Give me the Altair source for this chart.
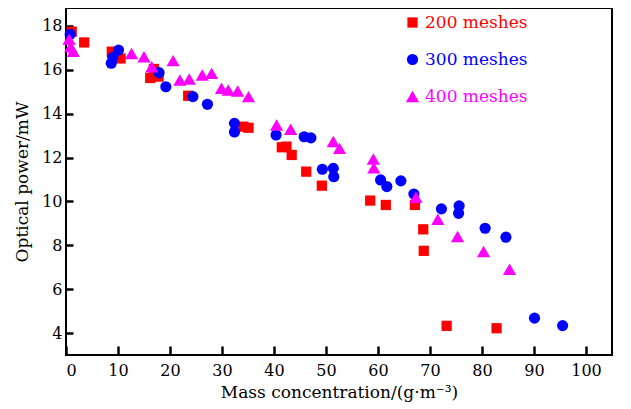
import altair as alt
import pandas as pd

# 200 meshes (red squares)
x200 = [1.1, 3.5, 8.8, 10.5, 16.2, 16.9, 17.8, 23.5, 34.1, 35.1, 41.5, 42.4, 43.4,
        46.2, 49.2, 58.5, 61.5, 67.1, 68.7, 68.8, 73.2, 82.8]
y200 = [17.74, 17.25, 16.83, 16.52, 15.63, 16.04, 15.69, 14.82, 13.41, 13.36, 12.47, 12.5, 12.12,
        11.36, 10.72, 10.04, 9.84, 9.84, 8.73, 7.75, 4.33, 4.22]

# 300 meshes (blue circles)
x300 = [0.8, 8.7, 9.0, 10.1, 17.9, 19.2, 24.4, 27.2, 32.4, 32.4, 40.4, 45.8, 47.1, 49.3,
        51.4, 51.5, 60.5, 61.7, 64.4, 66.9, 72.2, 75.6, 75.5, 80.6, 84.6, 90.1, 95.5]
y300 = [17.62, 16.3, 16.57, 16.9, 15.87, 15.23, 14.78, 14.43, 13.56, 13.17, 13.03, 12.95, 12.9, 11.47,
        11.51, 11.13, 10.98, 10.68, 10.94, 10.34, 9.66, 9.8, 9.46, 8.78, 8.37, 4.68, 4.34]

# 400 meshes (magenta triangles)
x400 = [0.6, 0.9, 1.4, 12.6, 15.0, 16.5, 20.6, 21.9, 23.7, 26.2, 28.0, 29.9, 31.2, 33.0,
        35.1, 40.5, 43.2, 51.4, 52.6, 59.1, 59.2, 67.3, 71.5, 75.3, 80.3, 85.3]
y400 = [17.4, 17.05, 16.85, 16.75, 16.6, 16.14, 16.42, 15.54, 15.58, 15.77, 15.84, 15.16, 15.08, 15.04,
        14.78, 13.49, 13.29, 12.73, 12.42, 11.94, 11.54, 10.19, 9.19, 8.4, 7.72, 6.91]

series = ["200 meshes", "300 meshes", "400 meshes"]
colors = ["#ff0000", "#0000ff", "#ff00ff"]
shapes = ["square", "circle", "triangle-up"]
sizes = [105, 125, 175]

x_ticks = [0, 10, 20, 30, 40, 50, 60, 70, 80, 90, 100]
y_ticks = [4, 6, 8, 10, 12, 14, 16, 18]

rows = []
for name, xs, ys in zip(series, [x200, x300, x400], [y200, y300, y400]):
    for a, b in zip(xs, ys):
        rows.append({"conc": a, "power": b, "series": name})
df = pd.DataFrame(rows)

FONT = "DejaVu Serif"
W, H = 546, 347

xscale = alt.Scale(domain=[0, 105], nice=False, zero=False)
yscale = alt.Scale(domain=[3, 18.82], nice=False, zero=False)

label_color = alt.ExprRef(
    "datum.label == '200 meshes' ? '#ff0000' : (datum.label == '300 meshes' ? '#0000ff' : '#ff00ff')"
)

# Inward ticks: axis line moved inside by the tick length, ticks pointing back to the frame.
chart = alt.Chart(df).mark_point(filled=True, opacity=1, strokeWidth=0).encode(
    x=alt.X("conc:Q", scale=xscale,
            axis=alt.Axis(values=x_ticks, title="Mass concentration/(g·m⁻³)",
                          domain=False, ticks=True, tickSize=9, offset=-9,
                          tickColor="#000000", tickWidth=2.5, tickOpacity=1,
                          labelPadding=7, titlePadding=6, grid=False)),
    y=alt.Y("power:Q", scale=yscale,
            axis=alt.Axis(values=y_ticks, title="Optical power/mW",
                          domain=False, ticks=True, tickSize=7, offset=-7,
                          tickColor="#000000", tickWidth=2.5, tickOpacity=1,
                          labelPadding=4, titlePadding=10, grid=False)),
    color=alt.Color("series:N",
                    scale=alt.Scale(domain=series, range=colors),
                    legend=alt.Legend(title=None, orient="none", legendX=338, legendY=6,
                                      labelFont=FONT, labelFontSize=17, rowPadding=19,
                                      symbolStrokeWidth=0,
                                      labelColor=label_color)),
    shape=alt.Shape("series:N", scale=alt.Scale(domain=series, range=shapes)),
    size=alt.Size("series:N", scale=alt.Scale(type="ordinal", domain=series, range=sizes),
                  legend=None),
).properties(
    width=W, height=H,
    autosize=alt.AutoSizeParams(type="none"),
    padding={"left": 58, "top": 0, "right": 10, "bottom": 50},
).configure_view(
    stroke="#000000", strokeWidth=2
).configure_axis(
    labelFont=FONT, labelFontSize=16, labelColor="#000000",
    titleFont=FONT, titleFontSize=17, titleFontWeight="normal", titleColor="#000000",
)

chart.save("out.html", embed_options={"renderer": "svg", "actions": False})
